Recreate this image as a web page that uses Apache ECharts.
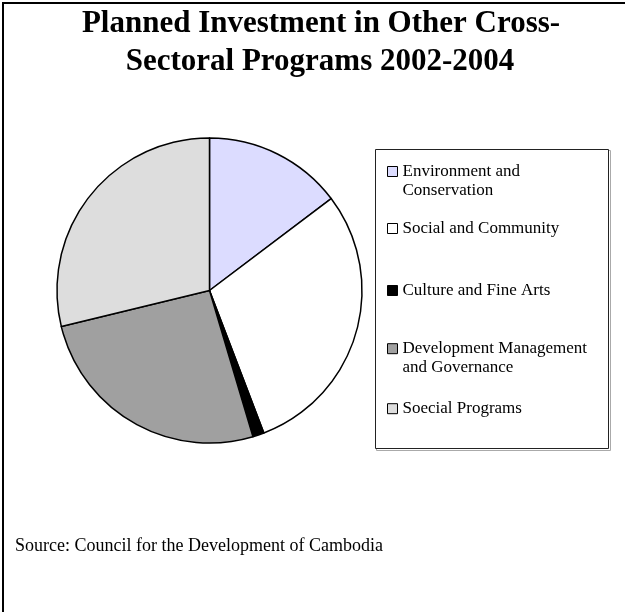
<!DOCTYPE html>
<html>
<head>
<meta charset="utf-8">
<script src="https://cdn.jsdelivr.net/npm/echarts@6/dist/echarts.min.js"></script>
<style>
html,body{margin:0;padding:0;background:#fff;}
#c{width:625px;height:612px;}
</style>
</head>
<body>
<div id="c"></div>
<script>
// Data (shares of planned investment, %)
var categories = [
  'Environment and Conservation',
  'Social and Community',
  'Culture and Fine Arts',
  'Development Management and Governance',
  'Soecial Programs'
];
var values = [14.7, 29.5, 1.2, 25.8, 28.8];
var legendLabels = [
  '\nEnvironment and\nConservation',
  'Social and Community',
  'Culture and Fine Arts',
  '\nDevelopment Management\nand Governance',
  'Soecial Programs'
];
var colors = ['#DCDCFF', '#FFFFFF', '#000000', '#A0A0A0', '#DDDDDD'];
var titleLines = ['Planned Investment in Other Cross-', 'Sectoral Programs 2002-2004'];
var sourceText = 'Source: Council for the Development of Cambodia';

var legendTops = [143, 219, 281, 320.2, 399.2];

var chart = echarts.init(document.getElementById('c'), null, {renderer: 'canvas'});

var legends = categories.map(function (name, i) {
  return {
    show: true,
    orient: 'vertical',
    left: 387,
    top: legendTops[i],
    padding: 0,
    itemWidth: 10,
    itemHeight: 10,
    icon: 'rect',
    selectedMode: false,
    data: [name],
    itemStyle: {borderColor: '#000', borderWidth: 1},
    formatter: function () { return legendLabels[i]; },
    textStyle: {
      fontFamily: 'Liberation Serif',
      fontSize: 17,
      lineHeight: 19,
      color: '#000'
    }
  };
});

var titleStyle = {fontFamily: 'Liberation Serif', fontWeight: 'bold', fontSize: 31, lineHeight: 31, color: '#000'};

var option = {
  animation: false,
  backgroundColor: '#ffffff',
  title: [
    {
      text: titleLines[0],
      left: 321,
      top: 8.5,
      textAlign: 'center',
      padding: 0,
      textStyle: titleStyle
    },
    {
      text: titleLines[1],
      left: 320,
      top: 46.5,
      textAlign: 'center',
      padding: 0,
      textStyle: titleStyle
    },
    {
      text: sourceText,
      left: 15,
      top: 536,
      padding: 0,
      textStyle: {fontFamily: 'Liberation Serif', fontWeight: 'normal', fontSize: 18, lineHeight: 20, color: '#000'}
    }
  ],
  legend: legends,
  graphic: [
    {
      type: 'rect',
      z: -10,
      shape: {x: 3, y: 3, width: 800, height: 800},
      style: {fill: 'none', stroke: '#000', lineWidth: 2}
    },
    {
      type: 'rect',
      z: -9,
      shape: {x: 376.5, y: 150.5, width: 234, height: 300},
      style: {fill: 'none', stroke: '#aaa', lineWidth: 1}
    },
    {
      type: 'rect',
      z: -8,
      shape: {x: 375.5, y: 149.5, width: 233, height: 299},
      style: {fill: '#fff', stroke: '#222', lineWidth: 1}
    }
  ],
  series: [
    {
      type: 'pie',
      center: [209.5, 290.5],
      radius: [0, 152.5],
      startAngle: 90,
      clockwise: true,
      label: {show: false},
      labelLine: {show: false},
      emphasis: {disabled: true},
      silent: true,
      itemStyle: {borderColor: '#000', borderWidth: 1.5},
      data: categories.map(function (name, i) {
        return {name: name, value: values[i], itemStyle: {color: colors[i]}};
      })
    }
  ]
};
chart.setOption(option);
</script>
</body>
</html>
